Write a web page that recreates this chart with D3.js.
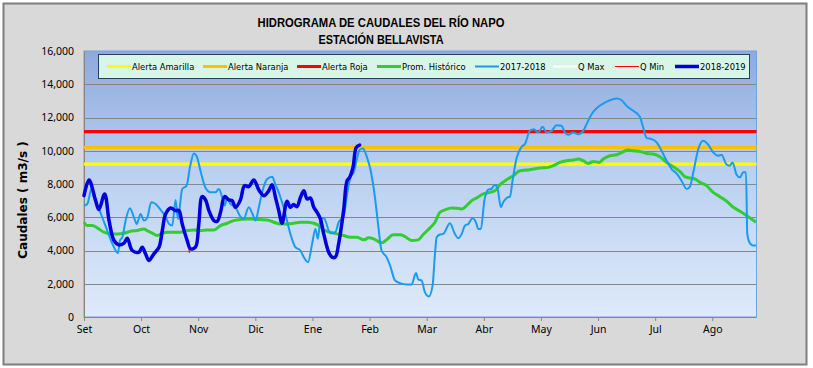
<!DOCTYPE html>
<html><head><meta charset="utf-8">
<script src="https://cdn.jsdelivr.net/npm/d3@7"></script>
<style>body{margin:0;background:#fff}svg{display:block}</style>
</head><body>
<svg id="c" width="813" height="368"></svg>
<script>
// ---- data ----
const months = ["Set","Oct","Nov","Dic","Ene","Feb","Mar","Abr","May","Jun","Jul","Ago"];
const monthDays = [0,31,62,93,124,155,186,217,248,279,310,341];
const yTicks = [0,2000,4000,6000,8000,10000,12000,14000,16000];

const alertaAmarilla = 9200, alertaNaranja = 10200, alertaRoja = 11150;

const days1819 = [0,2.7,6.3,8.1,11.2,13.6,16.3,19,21.7,23.5,26.2,29.8,31.6,33.4,35.2,37.9,40.7,42.5,44.3,47,49.7,51.5,53.3,56,57.8,60.5,62.3,64.1,66,67.8,70.5,72.3,74.1,76.3,78.6,80.4,82.2,84.9,87.1,89.4,92.2,94.9,97.6,100.3,102.1,103.9,105.7,107.5,110.2,112,113.8,115.6,117.5,119.3,121.1,122.9,124.7,126.5,128.3,130.1,132.8,134.6,136.4,138.2,140.9,142.8,144.2,146,147.8,149.6];
const q1819 = [7300,8240,7000,6460,7400,5800,4600,4340,4440,4740,4000,3900,4200,3800,3400,3800,4200,5200,6200,6560,6400,6400,5600,4600,4100,4200,5600,7240,7040,6400,5800,5760,6300,7240,7040,7000,6600,7040,7900,7840,8240,7640,7300,7600,7960,7200,6400,5640,6960,6600,6760,6640,7200,7600,7100,7160,6600,6300,5900,5000,3900,3600,3600,4400,6400,8200,8400,9000,10200,10340];

const days1718 = [0,1.8,4.2,5.8,8.1,9.9,12.6,15.4,17.2,18.4,19.5,20.8,22.6,24.9,27.1,28.6,30.7,32.5,34.3,36.5,38.9,41.6,44.3,46.1,47.9,49.7,51,53.3,55.7,57.5,59.6,61.4,63.2,66,68.7,71.4,73.2,75,76.3,77.7,79.5,82.2,84.9,86.7,89.4,91.3,93.1,94.9,96.7,99.4,102.1,103.9,105.7,107.5,109.3,112,114.7,117.5,119.3,121.6,123.8,125.6,126.9,128.3,130.1,133.7,136.4,138.2,140.9,142.8,144.6,146.4,149.6,151.4,153.6,155.4,157.9,159.7,161.5,164.2,166.1,168.8,171.5,175.1,177.8,180.2,181.4,183.2,185,187.2,189.2,190.5,191.4,193.2,195,198.6,201.3,203.1,205,206.8,208.6,210.9,212.7,214,215.4,217.3,219.4,221,223,224.5,226.3,227.5,229.4,231.2,232.6,234.8,237.5,239.3,242,244.2,246.5,248.9,251.1,253.8,256.5,259.2,261,262.8,265.5,268.3,271,272.8,275.5,278.2,281.8,285.4,289.1,291.8,294.5,298.1,301.7,303.5,305.4,308.1,310.8,313.5,316.2,318.9,321.6,324.3,327.1,328.9,330.7,333.4,336.1,338.8,341.5,344.2,346,348.8,350.5,352,354.2,356,357.8,359.3,360,361.4,363.2,364.7];
const q1718 = [6700,6800,7760,7100,6500,6000,5200,4400,4000,3840,4600,4800,5800,6540,6000,5600,6200,5800,5960,6900,6800,6440,6040,5600,5500,7040,5900,7700,7900,9000,9840,9600,8800,7760,7500,7500,7700,7200,6700,7160,6800,6600,6040,5900,6600,6240,5800,6600,7500,8300,8440,7960,7500,6900,6200,5000,4200,4000,3600,3300,4400,5300,4700,5800,5960,5040,5100,5700,6040,7400,8400,8700,10060,10140,9600,8900,7200,5500,4000,3600,3100,2200,2040,1960,1960,2640,2260,2200,1500,1240,1900,3800,4800,4960,5000,5640,5000,4740,5000,5500,5600,5940,5700,5300,5300,7000,7660,7700,7960,7700,6600,6900,7160,7240,8200,9560,10240,10400,11200,11300,11100,11440,11100,11200,11540,11500,11100,10960,11100,11000,11200,11600,12200,12560,12840,13040,13140,13040,12700,12400,12040,11400,10760,10700,10500,10000,9400,8900,8640,8200,7700,7840,8700,10100,10600,10360,9900,9700,9760,9160,9100,9300,8560,8400,8700,8700,5000,4440,4300,4300];

const daysProm = [0,1.8,4.5,7.2,10.8,14.5,18.1,21.7,25.3,28.9,32.5,34.3,37,39.8,42.5,45.2,52.4,56,59.6,63.2,66.8,70.5,74.1,77.7,81.3,84.9,88.5,92.2,95.8,99.4,103,106.6,110.2,113.8,117.5,121,124.7,127.4,130.1,133.7,137.3,140.9,144.6,148.2,151.8,154.5,157.2,158.8,161.5,164.2,167.9,171.5,174.2,177.8,181.4,184.1,187.8,190.5,193.2,195.9,199.5,202.2,205,208.6,210.4,213.1,216.7,220.3,223,225.8,229.4,233,236.6,240.2,243.8,247.5,252,254.7,258.3,261.9,265.5,268.3,271,273.7,276.4,279.7,281.8,285.4,289.1,292.7,295.4,298.1,301.7,305.4,309,312.6,316.2,319.8,323.4,326.1,328.9,331.6,334.3,337.9,341.5,345.1,348.8,352.4,356,359.6,364.7];
const qProm = [5700,5500,5500,5360,5100,5000,5000,5040,5160,5200,5300,5200,5040,4900,5040,5100,5100,5200,5240,5200,5240,5240,5500,5640,5800,5860,5900,5880,5860,5840,5700,5600,5600,5640,5700,5700,5640,5500,5240,5100,5000,4900,4800,4800,4640,4760,4700,4600,4460,4640,4940,4940,4840,4600,4640,4960,5360,5700,6300,6440,6560,6540,6500,6800,7000,7160,7400,7500,7600,7960,8260,8500,8800,8840,8900,8960,9000,9100,9300,9400,9440,9500,9400,9240,9360,9300,9500,9700,9760,9940,10040,10000,9960,9840,9800,9640,9300,9040,8760,8440,8360,8300,8100,7900,7500,7240,6960,6600,6360,6100,5700];

const daysQMin = [56.6,57.2];
const qMin = [4300,3850];

const legendLabels = ["Alerta Amarilla","Alerta Naranja","Alerta Roja","Prom. Histórico","2017-2018","Q Max","Q Min","2018-2019"];

// ---- drawing ----
const svg = d3.select("#c");
const W=813,H=368;
const x0=84, x1=756.5, yTop=51, yBot=317;
const x = d3.scaleLinear().domain([0,365]).range([x0,x1]);
const y = d3.scaleLinear().domain([0,16000]).range([yBot,yTop]);

svg.append("rect").attr("x",3.5).attr("y",3.5).attr("width",803).attr("height",361)
  .attr("fill","#d9d9d9").attr("stroke","#7f7f7f").attr("stroke-width",2);

const defs = svg.append("defs");
const g = defs.append("linearGradient").attr("id","bg").attr("x1",0).attr("y1",0).attr("x2",0).attr("y2",1);
g.append("stop").attr("offset","0%").attr("stop-color","#8eaadc");
g.append("stop").attr("offset","45%").attr("stop-color","#b9d0f1");
g.append("stop").attr("offset","100%").attr("stop-color","#dfeaf9");
svg.append("rect").attr("x",x0).attr("y",yTop).attr("width",x1-x0).attr("height",yBot-yTop)
  .attr("fill","url(#bg)").attr("stroke","#6fa3dd").attr("stroke-width",1);

// gridlines
svg.append("g").selectAll("line").data(yTicks.filter(v=>v>0&&v<16000)).join("line")
  .attr("x1",x0).attr("x2",x1).attr("y1",d=>Math.round(y(d))+0.5).attr("y2",d=>Math.round(y(d))+0.5)
  .attr("stroke","#868686").attr("stroke-width",1);

// y axis
const yAxis = svg.append("g").attr("transform",`translate(${x0},0)`)
  .call(d3.axisLeft(y).tickValues(yTicks).tickSize(0).tickPadding(10).tickFormat(d3.format(",")));
yAxis.select(".domain").attr("stroke","#868686");
yAxis.selectAll("text").attr("font-family","'Noto Sans', sans-serif").attr("font-size","10.5px").attr("fill","#000");

// x axis
const xAxis = svg.append("g").attr("transform",`translate(0,${yBot})`)
  .call(d3.axisBottom(x).tickValues(monthDays).tickSize(4).tickPadding(5).tickFormat((d,i)=>months[i]));
xAxis.select(".domain").attr("stroke","#868686").attr("d",`M${x0},0.5H${x1}`);
xAxis.selectAll(".tick line").attr("stroke","#868686");
xAxis.selectAll("text").attr("font-family","'Noto Sans', sans-serif").attr("font-size","10.5px").attr("fill","#000");

// alert lines
const alerts = [[alertaAmarilla,"#ffff00"],[alertaNaranja,"#ffc000"],[alertaRoja,"#ff0000"]];
svg.append("g").selectAll("line").data(alerts).join("line")
  .attr("x1",x0).attr("x2",x1).attr("y1",d=>y(d[0])).attr("y2",d=>y(d[0]))
  .attr("stroke",d=>d[1]).attr("stroke-width",3.2);

const line = d3.line().x(d=>x(d[0])).y(d=>y(d[1])).curve(d3.curveMonotoneX);
const zip=(a,b)=>a.map((v,i)=>[v,b[i]]);

svg.append("path").datum(zip(daysProm,qProm)).attr("d",line).attr("fill","none")
  .attr("stroke","#33cc33").attr("stroke-width",3).attr("stroke-linejoin","round");
svg.append("path").datum(zip(days1718,q1718)).attr("d",line).attr("fill","none")
  .attr("stroke","#1a9af0").attr("stroke-width",2).attr("stroke-linejoin","round");
svg.append("path").datum(zip(daysQMin,qMin)).attr("d",line).attr("fill","none")
  .attr("stroke","#ff0000").attr("stroke-width",1);
svg.append("path").datum(zip(days1819,q1819)).attr("d",d3.line().x(d=>x(d[0])).y(d=>y(d[1])).curve(d3.curveCatmullRom.alpha(0.5))).attr("fill","none")
  .attr("stroke","#0000dd").attr("stroke-width",3.5).attr("stroke-linejoin","round").attr("stroke-linecap","round");

// legend
svg.append("rect").attr("x",98.5).attr("y",54.5).attr("width",651).attr("height",24)
  .attr("fill","#d8f6e8").attr("stroke","#254061").attr("stroke-width",1);
const legStyles = [
  {c:"#ffff00",w:3,x:107,tw:62},{c:"#ffc000",w:3,x:203,tw:59},{c:"#ff0000",w:3,x:297,tw:45},
  {c:"#33cc33",w:3,x:377,tw:65},{c:"#1a9af0",w:2,x:475,tw:43},{c:"#ffffff",w:2,x:553,tw:28},
  {c:"#ff0000",w:1,x:615,tw:26},{c:"#0000dd",w:3.5,x:675,tw:44}];
const lg = svg.append("g").selectAll("g").data(legendLabels).join("g");
lg.append("line").attr("x1",(d,i)=>legStyles[i].x).attr("x2",(d,i)=>legStyles[i].x+24)
  .attr("y1",66.5).attr("y2",66.5).attr("stroke",(d,i)=>legStyles[i].c).attr("stroke-width",(d,i)=>legStyles[i].w);
lg.append("text").attr("x",(d,i)=>legStyles[i].x+25).attr("y",70).text(d=>d)
  .attr("font-family","'DejaVu Sans', sans-serif").attr("font-size","8.4px").attr("fill","#000");

// titles
svg.append("text").attr("x",381).attr("y",27).attr("text-anchor","middle")
  .attr("font-family","'Liberation Sans Narrow','Liberation Sans', sans-serif").attr("font-weight","bold").attr("font-size","12.5px")
  .attr("textLength",247).attr("lengthAdjust","spacingAndGlyphs").text("HIDROGRAMA DE CAUDALES DEL RÍO NAPO");
svg.append("text").attr("x",381).attr("y",43.5).attr("text-anchor","middle")
  .attr("font-family","'Liberation Sans Narrow','Liberation Sans', sans-serif").attr("font-weight","bold").attr("font-size","12.5px")
  .attr("textLength",125).attr("lengthAdjust","spacingAndGlyphs").text("ESTACIÓN BELLAVISTA");
svg.append("text").attr("transform","translate(27,200) rotate(-90)").attr("text-anchor","middle")
  .attr("font-family","'DejaVu Sans', sans-serif").attr("font-weight","bold").attr("font-size","12px")
  .text("Caudales ( m3/s )");
</script>
</body></html>
